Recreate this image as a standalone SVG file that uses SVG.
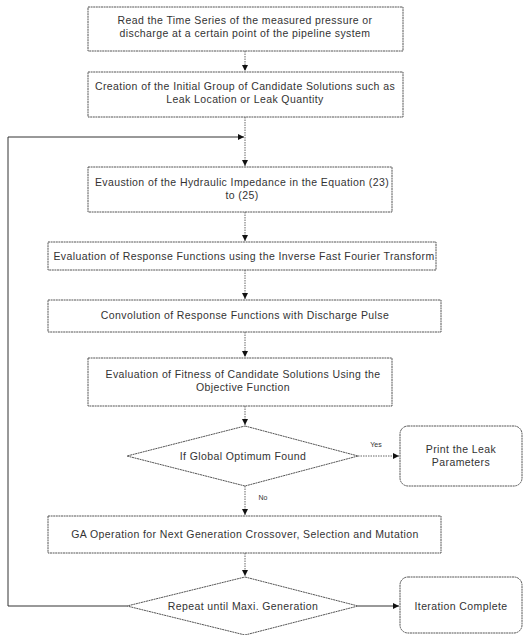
<svg xmlns="http://www.w3.org/2000/svg" width="525" height="635" viewBox="0 0 525 635">
<style>
.b{fill:#fff;stroke:#555;stroke-width:1;stroke-dasharray:2 0.6}
.t{font-family:"Liberation Sans",Arial,sans-serif;font-size:10.5px;letter-spacing:0.4px;fill:#333;text-anchor:middle}
.s{font-size:7px;letter-spacing:0}
.c{fill:none;stroke:#555;stroke-width:0.9;stroke-dasharray:1.5 1}
.c2{fill:none;stroke:#333;stroke-width:1}
</style>
<defs>
<marker id="a" viewBox="0 0 10 10" refX="10" refY="5" markerWidth="6" markerHeight="6" orient="auto" markerUnits="userSpaceOnUse">
<path d="M0,0 L10,5 L0,10 z" fill="#111"/>
</marker>
</defs>
<rect width="525" height="635" fill="#fff"/>
<g id="connectors">
<path class="c" d="M245,51 V71" marker-end="url(#a)"/>
<path class="c" d="M245,117 V166" marker-end="url(#a)"/>
<path class="c2" d="M127,606 H8 V137 H244" marker-end="url(#a)"/>
<path class="c" d="M245,212 V241" marker-end="url(#a)"/>
<path class="c" d="M245,270 V299" marker-end="url(#a)"/>
<path class="c" d="M245,332 V357" marker-end="url(#a)"/>
<path class="c" d="M245,406 V425" marker-end="url(#a)"/>
<path class="c" d="M358,456 H399" marker-end="url(#a)"/>
<path class="c" d="M245,486 V515" marker-end="url(#a)"/>
<path class="c" d="M245,553 V576" marker-end="url(#a)"/>
<path class="c2" d="M358,606 H399" marker-end="url(#a)"/>
<text class="t s" x="376" y="447">Yes</text>
<text class="t s" x="263" y="500">No</text>
</g>
<g id="n1">
<rect class="b" x="88" y="7" width="315" height="44"/>
<text class="t" x="245" y="24">Read the Time Series of the measured pressure or</text>
<text class="t" x="245" y="37">discharge at a certain point of the pipeline system</text>
</g>
<g id="n2">
<rect class="b" x="88" y="72" width="315" height="45"/>
<text class="t" x="245" y="90">Creation of the Initial Group of Candidate Solutions such as</text>
<text class="t" x="245" y="103">Leak Location or Leak Quantity</text>
</g>
<g id="n3">
<rect class="b" x="88" y="167" width="304" height="45"/>
<text class="t" x="242" y="186">Evaustion of the Hydraulic Impedance in the Equation (23)</text>
<text class="t" x="242" y="199">to (25)</text>
</g>
<g id="n4">
<rect class="b" x="48" y="242" width="388" height="28"/>
<text class="t" x="244" y="260">Evaluation of Response Functions using the Inverse Fast Fourier Transform</text>
</g>
<g id="n5">
<rect class="b" x="48" y="300" width="393" height="32"/>
<text class="t" x="245" y="319">Convolution of Response Functions with Discharge Pulse</text>
</g>
<g id="n6">
<rect class="b" x="88" y="358" width="304" height="48"/>
<text class="t" x="243" y="378">Evaluation of Fitness of Candidate Solutions Using the</text>
<text class="t" x="243" y="391">Objective Function</text>
</g>
<g id="d1">
<path class="b" d="M245,426 L358,456 L245,486 L127,456 Z"/>
<text class="t" x="243" y="460">If Global Optimum Found</text>
</g>
<g id="p1">
<rect class="b" x="400" y="426" width="122" height="60" rx="8"/>
<text class="t" x="461" y="453">Print the Leak</text>
<text class="t" x="461" y="466">Parameters</text>
</g>
<g id="n7">
<rect class="b" x="48" y="516" width="393" height="37"/>
<text class="t" x="245" y="538">GA Operation for Next Generation Crossover, Selection and Mutation</text>
</g>
<g id="d2">
<path class="b" d="M245,577 L358,606 L245,635 L127,606 Z"/>
<text class="t" x="243" y="610">Repeat until Maxi. Generation</text>
</g>
<g id="p2">
<rect class="b" x="400" y="577" width="122" height="56" rx="8"/>
<text class="t" x="461" y="610">Iteration Complete</text>
</g>
</svg>
